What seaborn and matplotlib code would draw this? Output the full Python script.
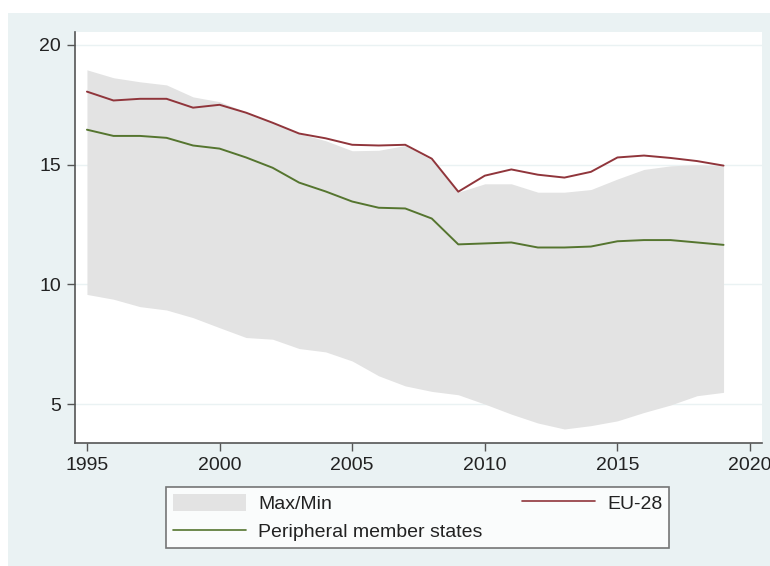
import matplotlib
matplotlib.use("Agg")
import matplotlib.pyplot as plt
import seaborn as sns
import pandas as pd
from matplotlib.patches import Rectangle, Patch
from matplotlib.lines import Line2D

years = list(range(1995, 2020))
eu28 = [18.05, 17.68, 17.75, 17.75, 17.38, 17.5, 17.17, 16.75, 16.3, 16.1,
        15.83, 15.8, 15.83, 15.25, 13.87, 14.54, 14.8, 14.58, 14.46, 14.7,
        15.3, 15.38, 15.28, 15.15, 14.96]
peripheral = [16.46, 16.2, 16.2, 16.12, 15.8, 15.67, 15.3, 14.87, 14.25, 13.88,
              13.46, 13.2, 13.17, 12.75, 11.67, 11.71, 11.75, 11.54, 11.54, 11.58,
              11.8, 11.85, 11.85, 11.75, 11.65]
band_max = [18.96, 18.63, 18.46, 18.33, 17.83, 17.63, 17.2, 16.75, 16.3, 16.0,
            15.58, 15.6, 15.8, 15.2, 13.85, 14.2, 14.2, 13.85, 13.85, 13.96,
            14.4, 14.8, 14.95, 15.0, 14.95]
band_min = [9.58, 9.38, 9.07, 8.93, 8.61, 8.19, 7.78, 7.71, 7.32, 7.18,
            6.8, 6.18, 5.76, 5.53, 5.39, 5.0, 4.58, 4.21, 3.96, 4.1,
            4.3, 4.65, 4.96, 5.35, 5.49]
x_ticks = [1995, 2000, 2005, 2010, 2015, 2020]
y_ticks = [5, 10, 15, 20]
labels = ["Max/Min", "Peripheral member states", "EU-28"]

BG = "#EAF2F3"
RED = "#90353B"
GREEN = "#55752F"
AREA = "#E3E3E3"
SPINE = "#555555"

sns.set_theme(style="white")
plt.rcParams["font.family"] = ["Liberation Sans", "DejaVu Sans"]

df = pd.DataFrame({"year": years, "eu28": eu28, "peripheral": peripheral,
                   "bmax": band_max, "bmin": band_min})

fig = plt.figure(figsize=(7.7, 5.66), dpi=100)
fig.patch.set_facecolor("white")
fig.patches.append(Rectangle((8 / 770, 0), 1 - 8 / 770, 1 - 13 / 566,
                             transform=fig.transFigure, facecolor=BG,
                             edgecolor="none", zorder=-10))

ax = fig.add_axes([75 / 770, 1 - 443 / 566, (762 - 75) / 770, (443 - 32) / 566])
ax.set_facecolor("white")

for yv in y_ticks:
    ax.axhline(yv, color=BG, lw=1.0, zorder=0)

ax.fill_between(df["year"], df["bmin"], df["bmax"], color=AREA, lw=0, zorder=1)
sns.lineplot(data=df, x="year", y="peripheral", ax=ax, color=GREEN, lw=1.4, zorder=3)
sns.lineplot(data=df, x="year", y="eu28", ax=ax, color=RED, lw=1.4, zorder=3)

ax.set_xlim(1994.55, 2020.45)
ax.set_ylim(3.375, 20.54)
ax.set_xticks(x_ticks)
ax.set_yticks(y_ticks)
ax.set_xlabel("")
ax.set_ylabel("")
for s in ["top", "right"]:
    ax.spines[s].set_visible(False)
for s in ["left", "bottom"]:
    ax.spines[s].set_color(SPINE)
    ax.spines[s].set_linewidth(1.2)
ax.tick_params(axis="both", which="major", direction="out", length=6, width=1.0,
               color=SPINE, labelsize=14, labelcolor="#222222", pad=4,
               left=True, bottom=True)

handles = [Patch(facecolor=AREA, edgecolor="none"),
           Line2D([], [], color=GREEN, lw=1.2),
           Line2D([], [], color=RED, lw=1.2)]
leg = fig.legend(handles, labels, ncol=2, loc="upper left",
                 bbox_to_anchor=(166 / 770, 1 - 487 / 566),
                 frameon=True, fancybox=False, fontsize=14,
                 handlelength=3.75, handleheight=1.0, handletextpad=0.65,
                 columnspacing=2.0, labelspacing=0.45, borderpad=0.35,
                 borderaxespad=0)
leg.get_frame().set_edgecolor(SPINE)
leg.get_frame().set_linewidth(1.2)
leg.get_frame().set_facecolor("white")
for t in leg.get_texts():
    t.set_color("#222222")

fig.savefig("out.png", dpi=100, facecolor="white")
